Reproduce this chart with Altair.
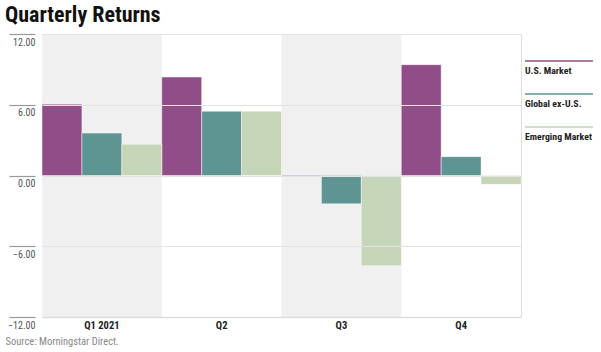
import altair as alt
import pandas as pd

quarters = ["Q1 2021", "Q2", "Q3", "Q4"]
series = ["U.S. Market", "Global ex-U.S.", "Emerging Market"]
us_market = [6.05, 8.35, -0.1, 9.4]
global_ex_us = [3.6, 5.45, -2.4, 1.6]
emerging = [2.65, 5.45, -7.65, -0.75]
shaded_quarters = ["Q1 2021", "Q3"]
y_ticks = [12, 6, 0, -6, -12]
colors = ["#904d88", "#5e9593", "#c6d4b8"]

FONT = "Roboto Condensed, Noto Sans Condensed, Liberation Sans Narrow, Arial Narrow, Roboto, sans-serif"

rows = []
for s, vals in zip(series, [us_market, global_ex_us, emerging]):
    for q, v in zip(quarters, vals):
        rows.append({"quarter": q, "series": s, "value": v})
df = pd.DataFrame(rows)
bg = pd.DataFrame({"quarter": shaded_quarters})
leg = pd.DataFrame({"series": series})

W, H = 479, 283
xscale = alt.Scale(domain=quarters, paddingInner=0, paddingOuter=0)
yscale = alt.Scale(domain=[-12, 12], nice=False)

background = alt.Chart(bg).mark_rect(color="#f0f0f0").encode(
    x=alt.X("quarter:N", scale=xscale, sort=quarters,
            axis=alt.Axis(title="Source: Morningstar Direct.", labelAngle=0,
                          labelFont=FONT, labelFontWeight="bold", labelFontSize=10.5,
                          labelColor="#222", labelPadding=3, ticks=False,
                          domainColor="#dddddd", domainWidth=1.5,
                          titleFont=FONT, titleFontWeight="normal", titleFontSize=10.5,
                          titleColor="#888", titleAnchor="start", titleAlign="left",
                          titleX=-37, titleY=19, titleBaseline="top")),
    y=alt.Y(datum=12, scale=yscale,
            axis=alt.Axis(values=y_ticks, format=".2f", title=None, offset=7,
                          tickSize=26, tickColor="#999", tickWidth=1.2,
                          labelPadding=-26, labelBaseline="top", labelOffset=3,
                          labelAlign="right", labelFont=FONT, labelFontSize=10,
                          labelColor="#555", domain=False, grid=True,
                          gridColor="#e3e3e3", zindex=1)),
    y2=alt.Y2(datum=-12),
)

bars = alt.Chart(df).mark_bar(stroke="white", strokeOpacity=0.45, strokeWidth=1).encode(
    x=alt.X("quarter:N", scale=xscale, sort=quarters),
    xOffset=alt.XOffset("series:N", sort=series,
                        scale=alt.Scale(domain=series, paddingInner=0, paddingOuter=0)),
    y=alt.Y("value:Q", scale=yscale, axis=None),
    color=alt.Color("series:N", scale=alt.Scale(domain=series, range=colors), legend=None),
)

leg_y = alt.Scale(type="point", domain=series, range=[27, 93], padding=0)
leg_lines = alt.Chart(leg).mark_rule(strokeWidth=1.6).encode(
    x=alt.value(W + 4), x2=alt.value(W + 72),
    y=alt.Y("series:N", scale=leg_y, axis=None, sort=series),
    color=alt.Color("series:N", scale=alt.Scale(domain=series, range=colors), legend=None),
)
leg_text = alt.Chart(leg).mark_text(align="left", baseline="middle", dy=10, font=FONT,
                                    fontWeight="bold", fontSize=9.8, color="#222").encode(
    x=alt.value(W + 4),
    y=alt.Y("series:N", scale=leg_y, axis=None, sort=series),
    text="series:N",
)

chart = alt.layer(background, bars, leg_lines, leg_text).resolve_scale(
    y="independent"
).properties(
    width=W, height=H,
    title=alt.TitleParams("Quarterly Returns", anchor="start", frame="group", dx=-37,
                          offset=6, font=FONT, fontSize=22, fontWeight="bold",
                          color="#111"),
    autosize=alt.AutoSizeParams(type="none"),
    padding={"left": 42, "top": 34, "right": 80, "bottom": 35},
).configure_view(stroke=None).configure(background="white")

chart.save("out.html", embed_options={"renderer": "svg", "actions": False})
